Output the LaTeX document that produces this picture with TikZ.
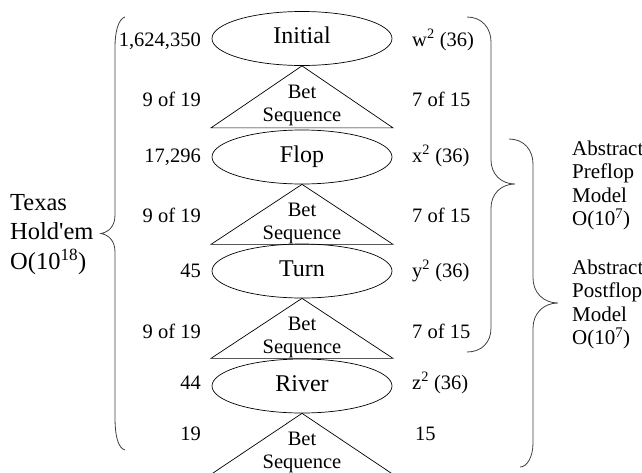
\documentclass[tikz,border=0pt]{standalone}
\usepackage{fontspec}
\setmainfont{Liberation Serif}
\usetikzlibrary{shapes.geometric,calc}
\begin{document}
\begin{tikzpicture}[x=1pt,y=-1pt,
  stage/.style={draw, line width=0.7pt, ellipse, minimum width=180pt, minimum height=54pt, inner sep=0pt,
    font=\fontsize{24}{29.5}\selectfont, text height=16pt, text depth=6pt},
  betlabel/.style={font=\fontsize{20.5}{23}\selectfont, align=center, inner sep=0pt, anchor=north},
  num/.style={font=\fontsize{20.5}{23}\selectfont, inner sep=0pt, anchor=base east},
  cnt/.style={font=\fontsize{20.5}{23}\selectfont, inner sep=0pt, anchor=base west},
  bigblock/.style={font=\fontsize{24.5}{29.5}\selectfont, align=left, inner sep=0pt, anchor=north west},
  absblock/.style={font=\fontsize{21}{23.5}\selectfont, align=left, inner sep=0pt, anchor=north west},
  brace/.style={draw=black!75, line width=0.8pt},
  tri/.style={draw, line width=0.7pt, line join=miter}
]
\useasboundingbox (0,0) rectangle (642,472);
\clip (0,0) rectangle (642,472);

% stages
\node[stage] (e1) at (302,38.5) {Initial};
\node[stage] (e2) at (302,157) {Flop};
\node[stage] (e3) at (302,271) {Turn};
\node[stage] (e4) at (302,386) {River};

% bet sequence triangles
\draw[tri] (e1.south) -- ++(-91,62) -- ++(182,0) -- cycle;
\draw[tri] (e2.south) -- ++(-91,60) -- ++(182,0) -- cycle;
\draw[tri] (e3.south) -- ++(-91,60) -- ++(182,0) -- cycle;
\draw[tri] (e4.south) -- ++(-91,61) -- ++(182,0) -- cycle;
\node[betlabel] (b1) at ($(e1.south)+(0,19)$) {Bet\\Sequence};
\node[betlabel] (b2) at ($(e2.south)+(0,19)$) {Bet\\Sequence};
\node[betlabel] (b3) at ($(e3.south)+(0,19)$) {Bet\\Sequence};
\node[betlabel] (b4) at ($(e4.south)+(0,19)$) {Bet\\Sequence};

% left counts
\node[num] (l1) at (201,46) {1,624,350};
\node[num] (l2) at (201,106.5) {9 of 19};
\node[num] (l3) at (201,162) {17,296};
\node[num] (l4) at (201,222) {9 of 19};
\node[num] (l5) at (201,277) {45};
\node[num] (l6) at (201,338) {9 of 19};
\node[num] (l7) at (201,389) {44};
\node[num] (l8) at (201,440) {19};

% right counts
\node[cnt] (r1) at (412,46) {w\textsuperscript{2} (36)};
\node[cnt] (r2) at (412,106.5) {7 of 15};
\node[cnt] (r3) at (412,162) {x\textsuperscript{2} (36)};
\node[cnt] (r4) at (412,222) {7 of 15};
\node[cnt] (r5) at (412,277) {y\textsuperscript{2} (36)};
\node[cnt] (r6) at (412,338) {7 of 15};
\node[cnt] (r7) at (412,389) {z\textsuperscript{2} (36)};
\node[cnt] (r8) at (415,440) {15};

% left label and brace
\node[bigblock] (game) at (10,194) {Texas\\Hold\textquotesingle em\\O(10\textsuperscript{18})};
\draw[brace] (125,17) .. controls (118,19) and (115,33) .. (115,47) -- (115,215)
  .. controls (115,226) and (109,232) .. (101,233.5)
  .. controls (109,235) and (115,241) .. (115,252) -- (115,417)
  .. controls (115,436) and (118,448) .. (125,450);

% right braces
\draw[brace] (467,17) .. controls (482,17) and (491,28) .. (491,42) -- (491,160)
  .. controls (491,174) and (501,184) .. (515,184)
  .. controls (501,184) and (491,194) .. (491,208) -- (491,328)
  .. controls (491,342) and (482,352) .. (467,352);
\draw[brace] (509,139) .. controls (524,139) and (533,150) .. (533,164) -- (533,278)
  .. controls (533,292) and (543,303) .. (558,303)
  .. controls (543,303) and (533,314) .. (533,328) -- (533,443)
  .. controls (533,457) and (527,467) .. (520,467);

% right labels
\node[absblock] (pre) at (572,140.5) {Abstract\\Preflop\\Model\\O(10\textsuperscript{7})};
\node[absblock] (post) at (572,259.5) {Abstract\\Postflop\\Model\\O(10\textsuperscript{7})};
\end{tikzpicture}
\end{document}
